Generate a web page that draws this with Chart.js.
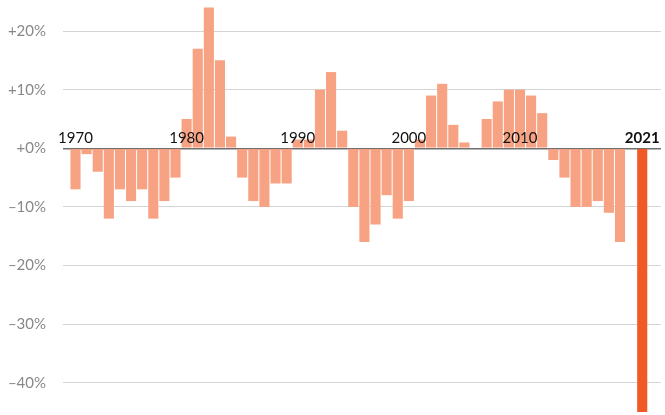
<!DOCTYPE html>
<html>
<head>
<meta charset="utf-8">
<script src="https://cdn.jsdelivr.net/npm/chart.js@4/dist/chart.umd.min.js"></script>
<style>
  html, body { margin: 0; padding: 0; background: #fff; }
  #wrap { width: 665px; height: 415px; }
</style>
</head>
<body>
<div id="wrap"><canvas id="chart"></canvas></div>
<script>
const years = [1970, 1971, 1972, 1973, 1974, 1975, 1976, 1977, 1978, 1979,
    1980, 1981, 1982, 1983, 1984, 1985, 1986, 1987, 1988, 1989,
    1990, 1991, 1992, 1993, 1994, 1995, 1996, 1997, 1998, 1999,
    2000, 2001, 2002, 2003, 2004, 2005, 2006, 2007, 2008, 2009,
    2010, 2011, 2012, 2013, 2014, 2015, 2016, 2017, 2018, 2019,
    2020, 2021];
const changes = [-7, -1, -4, -12, -7, -9, -7, -12, -9, -5,
    5, 17, 24, 15, 2, -5, -9, -10, -6, -6,
    1.5, 1.5, 10, 13, 3, -10, -16, -13, -8, -12,
    -9, 1.5, 9, 11, 4, 1, 0, 5, 8, 10,
    10, 9, 6, -2, -5, -10, -10, -9, -11, -16,
    null, -45];
const yearTicks = [1970, 1980, 1990, 2000, 2010, 2021];
const percentTicks = [-40, -30, -20, -10, 0, 10, 20];

const highlightYear = 2021;
const ctx = document.getElementById('chart').getContext('2d');

// year labels sit on the zero line, drawn over the bars
const yearLabels = {
    id: 'yearLabels',
    afterDatasetsDraw(chart) {
        const x = chart.scales.x;
        const y = chart.scales.y;
        const c = chart.ctx;
        const zero = y.getPixelForValue(0);
        c.save();
        c.fillStyle = '#111';
        c.textAlign = 'center';
        c.textBaseline = 'alphabetic';
        yearTicks.forEach(yr => {
            c.font = (yr === highlightYear ? 'bold ' : '') + '15px Lato';
            c.fillText(String(yr), x.getPixelForValue(yr), zero - 5);
        });
        c.restore();
    }
};

const chart = new Chart(ctx, {
    type: 'bar',
    data: {
        datasets: [{
            data: years.map((yr, i) => ({ x: yr, y: changes[i] })),
            backgroundColor: years.map(yr => yr === highlightYear ? '#f15a24' : '#f7a282'),
            borderWidth: 0,
            categoryPercentage: 1,
            barPercentage: 0.91
        }]
    },
    options: {
        responsive: true,
        maintainAspectRatio: false,
        animation: false,
        layout: { autoPadding: false, padding: { top: 0, right: 4, bottom: 0, left: 0 } },
        plugins: {
            legend: { display: false },
            tooltip: { enabled: false }
        },
        scales: {
            x: {
                type: 'linear',
                display: false,
                offset: false,
                min: 1968.875,
                max: 2022.69
            },
            y: {
                min: -45.5,
                max: 25.3,
                offset: false,
                afterFit: function(scale) {
                    scale.width = 63;
                    scale.paddingTop = 0;
                    scale.paddingBottom = 0;
                },
                afterBuildTicks: function(scale) {
                    scale.ticks = percentTicks.map(v => ({ value: v }));
                },
                border: { display: false },
                grid: {
                    drawTicks: false,
                    color: function(c) {
                        return c.tick && c.tick.value === 0 ? '#6f6f6f' : '#d4d4d4';
                    },
                    lineWidth: function(c) {
                        return c.tick && c.tick.value === 0 ? 1.5 : 1;
                    }
                },
                ticks: {
                    padding: 17,
                    color: '#888',
                    font: { family: 'Lato', size: 15 },
                    callback: function(value) {
                        if (value >= 0) return '+' + value + '%';
                        return '\u2013' + Math.abs(value) + '%';
                    }
                }
            }
        }
    },
    plugins: [yearLabels]
});
</script>
</body>
</html>
